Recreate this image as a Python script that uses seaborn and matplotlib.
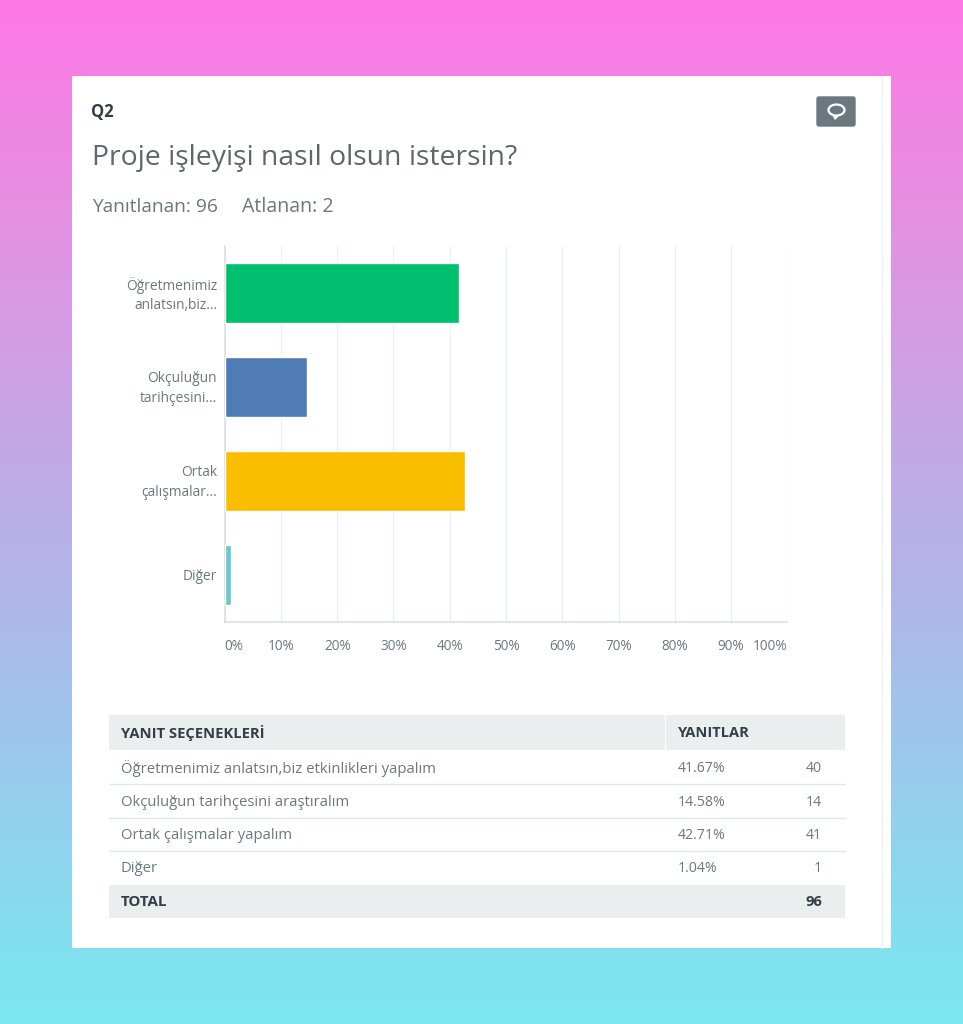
import numpy as np
import pandas as pd
import matplotlib
matplotlib.use("Agg")
import matplotlib.pyplot as plt
from matplotlib.patches import Rectangle, FancyBboxPatch, Ellipse, Polygon
from matplotlib.colors import LinearSegmentedColormap
from matplotlib.transforms import ScaledTranslation
import seaborn as sns

categories = ["Öğretmenimiz\nanlatsın,biz...", "Okçuluğun\ntarihçesini...", "Ortak\nçalışmalar...", "Diğer"]
percent_values = [41.67, 14.58, 42.71, 1.04]
bar_colors = ["#00BF6F", "#507CB6", "#F9BE00", "#6BC8CD"]
x_ticks = [0, 10, 20, 30, 40, 50, 60, 70, 80, 90, 100]
row_labels = ["Öğretmenimiz anlatsın,biz etkinlikleri yapalım", "Okçuluğun tarihçesini araştıralım",
              "Ortak çalışmalar yapalım", "Diğer"]
row_percents = ["41.67%", "14.58%", "42.71%", "1.04%"]
row_counts = ["40", "14", "41", "1"]

W, H = 963, 1024
sns.set_theme(style="white")
plt.rcParams["font.family"] = ["Open Sans", "Noto Sans", "DejaVu Sans"]
fig = plt.figure(figsize=(W / 100, H / 100), dpi=100)

# page layer in pixel coordinates
bg = fig.add_axes([0, 0, 1, 1], zorder=0)
bg.set_xlim(0, W); bg.set_ylim(H, 0); bg.axis("off")
cmap = LinearSegmentedColormap.from_list("bg", ["#FF78E6", "#E58FE2", "#C9A5E6", "#ADB8EA", "#93D0EE", "#7AE8F0"])
bg.imshow(np.linspace(0, 1, 256)[:, None], cmap=cmap, extent=[0, W, H, 0], aspect="auto", zorder=0)
bg.add_patch(Rectangle((72, 76), 819, 872, fc="white", ec="none", zorder=1))
bg.plot([882, 882], [76, 948], color="#EEF1F1", lw=1, zorder=2)

TXT = "#6B787F"
DARK = "#333E48"
bg.text(91, 112, "Q2", fontsize=12, fontweight="bold", color=DARK, va="center", zorder=3)
bg.text(91.5, 157.5, "Proje işleyişi nasıl olsun istersin?", fontsize=20.4, color="#5C676E", va="center", zorder=3)
bg.text(92, 207.5, "Yanıtlanan: 96", fontsize=13.8, color=TXT, va="center", zorder=3)
bg.text(242, 207.5, "Atlanan: 2", fontsize=14.1, color=TXT, va="center", zorder=3)

# comment icon
bg.add_patch(FancyBboxPatch((817, 97), 38, 29, boxstyle="round,pad=0,rounding_size=2", fc="#6B787F", ec="#6B787F", lw=1, zorder=3))
bg.add_patch(Polygon([[832, 115], [835, 120], [840, 115]], fc="white", ec="none", zorder=4))
bg.add_patch(Ellipse((836.5, 110), 16, 11, fc="#6B787F", ec="white", lw=1.6, zorder=5))

# table
bg.add_patch(Rectangle((109, 715), 736, 35, fc="#EBEEEE", ec="none", zorder=3))
bg.add_patch(Rectangle((109, 885), 736, 33, fc="#EBEEEE", ec="none", zorder=3))
bg.plot([665, 665], [715, 750], color="white", lw=1, zorder=4)
for y in [784, 817.5, 851]:
    bg.plot([109, 845], [y, y], color="#E3E7E7", lw=1, zorder=3)
bg.text(121, 733, "YANIT SEÇENEKLERİ", fontsize=10.6, fontweight="bold", color=DARK, va="center", zorder=5)
bg.text(678, 733, "YANITLAR", fontsize=10.5, fontweight="bold", color=DARK, va="center", zorder=5)
for y, lab, p, c in zip([768.5, 802.5, 835.5, 869], row_labels, row_percents, row_counts):
    bg.text(121, y, lab, fontsize=10.7, color=TXT, va="center", zorder=5)
    bg.text(678, y, p, fontsize=10.2, color=TXT, va="center", zorder=5)
    bg.text(822, y, c, fontsize=10.2, color=TXT, va="center", ha="right", zorder=5)
bg.text(121, 902, "TOTAL", fontsize=10.9, fontweight="bold", color=DARK, va="center", zorder=5)
bg.text(822, 902, "96", fontsize=10.6, fontweight="bold", color=DARK, va="center", ha="right", zorder=5)

# chart
x0, x1, y0, y1 = 224.7, 787.3, 246, 622
ax = fig.add_axes([x0 / W, 1 - y1 / H, (x1 - x0) / W, (y1 - y0) / H], zorder=2)
ax.patch.set_alpha(0)
df = pd.DataFrame({"cat": categories, "pct": percent_values})
sns.barplot(data=df, y="cat", x="pct", hue="cat", palette=bar_colors, order=categories,
            hue_order=categories, legend=False, width=0.64, saturation=1, ax=ax, zorder=3)
ax.set_xlim(0, 100)
ax.set_ylim(3.5, -0.5)
ax.set_xlabel(""); ax.set_ylabel("")
ax.set_xticks(x_ticks)
ax.set_xticklabels([f"{t}%" for t in x_ticks], fontsize=9.8, color=TXT)
labels = ax.get_xticklabels()
labels[0].set_ha("left"); labels[0].set_x(0)
labels[-1].set_ha("right")
ax.tick_params(axis="x", length=0, pad=12)
ax.tick_params(axis="y", length=0, pad=5.5)
for lab in ax.get_yticklabels():
    lab.set_fontsize(9.9); lab.set_color(TXT); lab.set_ha("right"); lab.set_multialignment("right")
    lab.set_linespacing(1.38)
    if "\n" in lab.get_text():
        lab.set_transform(lab.get_transform() + ScaledTranslation(0, 2.5 / 100, fig.dpi_scale_trans))
ax.grid(axis="x", color="#E8F0F0", lw=0.9, zorder=0)
ax.set_axisbelow(True)
for s in ["top", "right"]:
    ax.spines[s].set_visible(False)
for s in ["left", "bottom"]:
    ax.spines[s].set_color("#D9DEDE"); ax.spines[s].set_linewidth(1.1)

fig.savefig("out.png", dpi=100)
